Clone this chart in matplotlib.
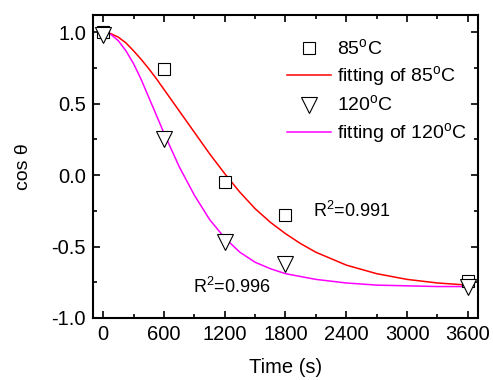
import matplotlib
matplotlib.use("Agg")
import matplotlib.pyplot as plt
from matplotlib.ticker import MultipleLocator

plt.rcParams['font.family'] = ['Liberation Sans', 'DejaVu Sans']
plt.rcParams['mathtext.fontset'] = 'custom'
plt.rcParams['mathtext.rm'] = 'Liberation Sans'

# measured points
time_85 = [0, 600, 1200, 1800, 3600]
cos_85 = [1.0, 0.74, -0.05, -0.28, -0.74]
time_120 = [0, 600, 1200, 1800, 3600]
cos_120 = [0.98, 0.25, -0.47, -0.62, -0.78]

# fitted curves
fit_time = [0, 75, 150, 225, 300, 375, 450, 525, 600, 750, 900, 1050, 1200,
            1350, 1500, 1650, 1800, 1950, 2100, 2400, 2700, 3000, 3300, 3600]
fit_85 = [1.0, 0.99, 0.965, 0.925, 0.87, 0.81, 0.745, 0.675, 0.60, 0.45,
          0.30, 0.15, 0.01, -0.12, -0.235, -0.33, -0.41, -0.48, -0.54,
          -0.63, -0.69, -0.73, -0.755, -0.77]
fit_120 = [1.0, 0.985, 0.94, 0.87, 0.78, 0.67, 0.545, 0.42, 0.295, 0.06,
           -0.14, -0.31, -0.44, -0.54, -0.61, -0.655, -0.69, -0.71, -0.73,
           -0.755, -0.77, -0.775, -0.78, -0.78]

fig = plt.figure(figsize=(4.93, 3.8), dpi=100)
ax = fig.add_axes([0.1886, 0.1632, 0.781, 0.7973])

ax.plot(time_85, cos_85, 's', ms=8.6, mfc='white', mec='black', mew=0.8,
        label='85$^{\\mathrm{o}}$C', zorder=3)
ax.plot(fit_time, fit_85, '-', color='#ff0000', lw=1.1,
        label='fitting of 85$^{\\mathrm{o}}$C', zorder=2)
ax.plot(time_120, cos_120, 'v', ms=11.5, mfc='white', mec='black', mew=0.8,
        label='120$^{\\mathrm{o}}$C', zorder=3)
ax.plot(fit_time, fit_120, '-', color='#ff00ff', lw=1.1,
        label='fitting of 120$^{\\mathrm{o}}$C', zorder=2)

ax.set_xlim(-100, 3700)
ax.set_ylim(-1.0, 1.12)
ax.xaxis.set_major_locator(MultipleLocator(600))
ax.xaxis.set_minor_locator(MultipleLocator(300))
ax.yaxis.set_major_locator(MultipleLocator(0.5))
ax.yaxis.set_minor_locator(MultipleLocator(0.25))
ax.yaxis.set_major_formatter(matplotlib.ticker.FormatStrFormatter('%.1f'))

for s in ax.spines.values():
    s.set_linewidth(1.5)
ax.tick_params(which='both', direction='in', top=True, right=True, width=1.2,
               labelsize=14.5)
ax.tick_params(which='major', length=5, pad=5)
ax.tick_params(which='minor', length=3)

ax.set_xlabel('Time (s)', fontsize=14.5, labelpad=10)
ax.set_ylabel('cos θ', fontsize=14, labelpad=14)

ax.text(2070, -0.25, 'R$^2$=0.991', fontsize=13, ha='left', va='center')
ax.text(890, -0.78, 'R$^2$=0.996', fontsize=13, ha='left', va='center')

ax.legend(loc='upper right', bbox_to_anchor=(1.0, 0.96), frameon=False,
          fontsize=14, handlelength=2.25, handletextpad=0.3,
          labelspacing=0.28, borderaxespad=0.18)

fig.savefig('out.png', dpi=100)
